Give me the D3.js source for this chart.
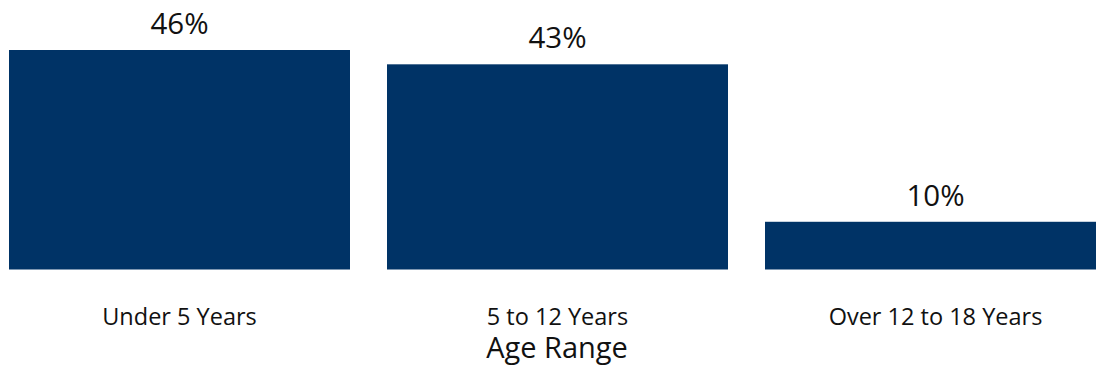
<!DOCTYPE html>
<html>
<head>
<meta charset="utf-8">
<script src="https://cdn.jsdelivr.net/npm/d3@7"></script>
<style>
  html, body { margin: 0; padding: 0; background: #fff; }
  svg { display: block; font-family: "Open Sans", "Noto Sans", sans-serif; }
</style>
</head>
<body>
<div id="chart"></div>
<script>
const categories = ["Under 5 Years", "5 to 12 Years", "Over 12 to 18 Years"];
const shares = [46, 43, 10];
const valueLabels = ["46%", "43%", "10%"];
const axisTitle = "Age Range";

const width = 1096, height = 366;
const baseline = 269.5, topY = 50;

const svg = d3.select("#chart").append("svg")
  .attr("width", width).attr("height", height);

const x = d3.scaleBand()
  .domain(categories)
  .range([9, 1106])
  .paddingInner(37 / 378)
  .paddingOuter(0);

const y = d3.scaleLinear()
  .domain([0, 46])
  .range([baseline, topY]);

const data = categories.map((c, i) => ({ c, v: shares[i], label: valueLabels[i] }));

svg.append("g").selectAll("rect").data(data).join("rect")
  .attr("x", d => x(d.c))
  .attr("y", d => y(d.v))
  .attr("width", x.bandwidth())
  .attr("height", d => baseline - y(d.v))
  .attr("fill", "#003366");

svg.append("g").selectAll("text").data(data).join("text")
  .attr("x", d => x(d.c) + x.bandwidth() / 2)
  .attr("y", d => y(d.v) - 16)
  .attr("text-anchor", "middle")
  .attr("font-size", 29.5)
  .attr("fill", "#111")
  .text(d => d.label);

// Category axis without line or ticks
const xAxis = svg.append("g")
  .attr("transform", `translate(0,${baseline})`)
  .call(d3.axisBottom(x).tickSize(0).tickPadding(0));
xAxis.select(".domain").remove();
xAxis.selectAll("text")
  .attr("y", 55.5)
  .attr("dy", 0)
  .attr("font-size", 23.5)
  .attr("font-family", "'Open Sans', 'Noto Sans', sans-serif")
  .attr("fill", "#111");

svg.append("text")
  .attr("x", 557)
  .attr("y", 358)
  .attr("text-anchor", "middle")
  .attr("font-size", 29)
  .attr("fill", "#111")
  .text(axisTitle);
</script>
</body>
</html>
